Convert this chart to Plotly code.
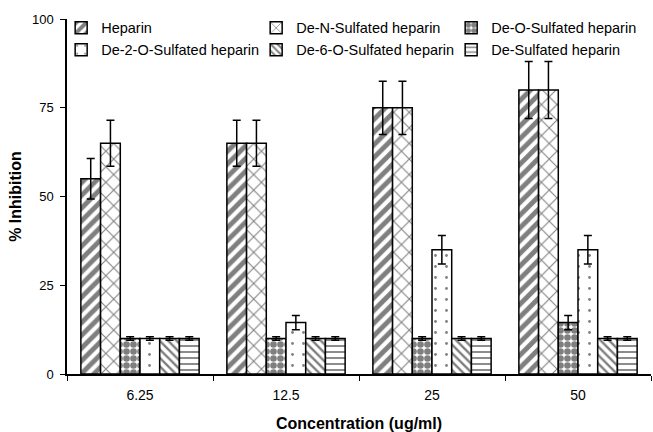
import plotly.graph_objects as go

categories = ["6.25", "12.5", "25", "50"]
series_names = ["Heparin", "De-N-Sulfated heparin", "De-O-Sulfated heparin",
                "De-2-O-Sulfated heparin", "De-6-O-Sulfated heparin", "De-Sulfated heparin"]
heparin = [55, 65, 75, 80]
de_n = [65, 65, 75, 80]
de_o = [10, 10, 10, 14.5]
de_2o = [10, 14.5, 35, 35]
de_6o = [10, 10, 10, 10]
de_s = [10, 10, 10, 10]
err_heparin = [5.7, 6.5, 7.5, 8]
err_de_n = [6.5, 6.5, 7.5, 8]
err_de_o = [0.5, 0.5, 0.5, 2]
err_de_2o = [0.5, 2, 4, 4]
err_de_6o = [0.5, 0.5, 0.5, 0.5]
err_de_s = [0.5, 0.5, 0.5, 0.5]

values = [heparin, de_n, de_o, de_2o, de_6o, de_s]
errors = [err_heparin, err_de_n, err_de_o, err_de_2o, err_de_6o, err_de_s]
patterns = [
    dict(shape="/", size=9, solidity=0.55),
    dict(shape="x", size=11, solidity=0.18),
    dict(shape=".", size=7, solidity=0.7),
    dict(shape=".", size=11, solidity=0.05),
    dict(shape="\\", size=6, solidity=0.4),
    dict(shape="-", size=6, solidity=0.3),
]

fig = go.Figure()
for name, v, e, p in zip(series_names, values, errors, patterns):
    fig.add_trace(go.Bar(
        name=name, x=categories, y=v,
        marker=dict(color="white", line=dict(color="black", width=1.5),
                    pattern=dict(fgcolor="black", bgcolor="white", **p)),
        error_y=dict(type="data", array=e, visible=True, color="black",
                     thickness=1.5, width=4),
    ))

fig.update_layout(
    width=653, height=432,
    margin=dict(l=67, r=2, t=19, b=58),
    paper_bgcolor="white", plot_bgcolor="white",
    barmode="group", bargap=0.19, bargroupgap=0,
    font=dict(family="Liberation Sans, Arial, sans-serif", color="black", size=12),
    showlegend=True,
    legend=dict(orientation="h", x=-0.01, y=1.02, xanchor="left", yanchor="top",
                entrywidth=150, entrywidthmode="pixels", itemwidth=30,
                font=dict(size=14.5), tracegroupgap=0, bgcolor="rgba(0,0,0,0)"),
    xaxis=dict(type="category", showline=True, linecolor="black", linewidth=1.5,
               ticks="outside", tickson="boundaries", ticklen=5, tickcolor="black",
               tickfont=dict(size=14), range=[-0.5, 3.5], ticklabelstandoff=7,
               title=dict(text="<b>Concentration (ug/ml)</b>", font=dict(size=16), standoff=16)),
    yaxis=dict(range=[0, 100], tickvals=[0, 25, 50, 75, 100], showline=True,
               linecolor="black", linewidth=1.5, ticks="outside", ticklen=5,
               tickcolor="black", showgrid=False, zeroline=False,
               tickfont=dict(size=13), ticklabelstandoff=4,
               title=dict(text="<b>% Inhibition</b>", font=dict(size=16), standoff=6)),
)

fig.write_html("out.html")
